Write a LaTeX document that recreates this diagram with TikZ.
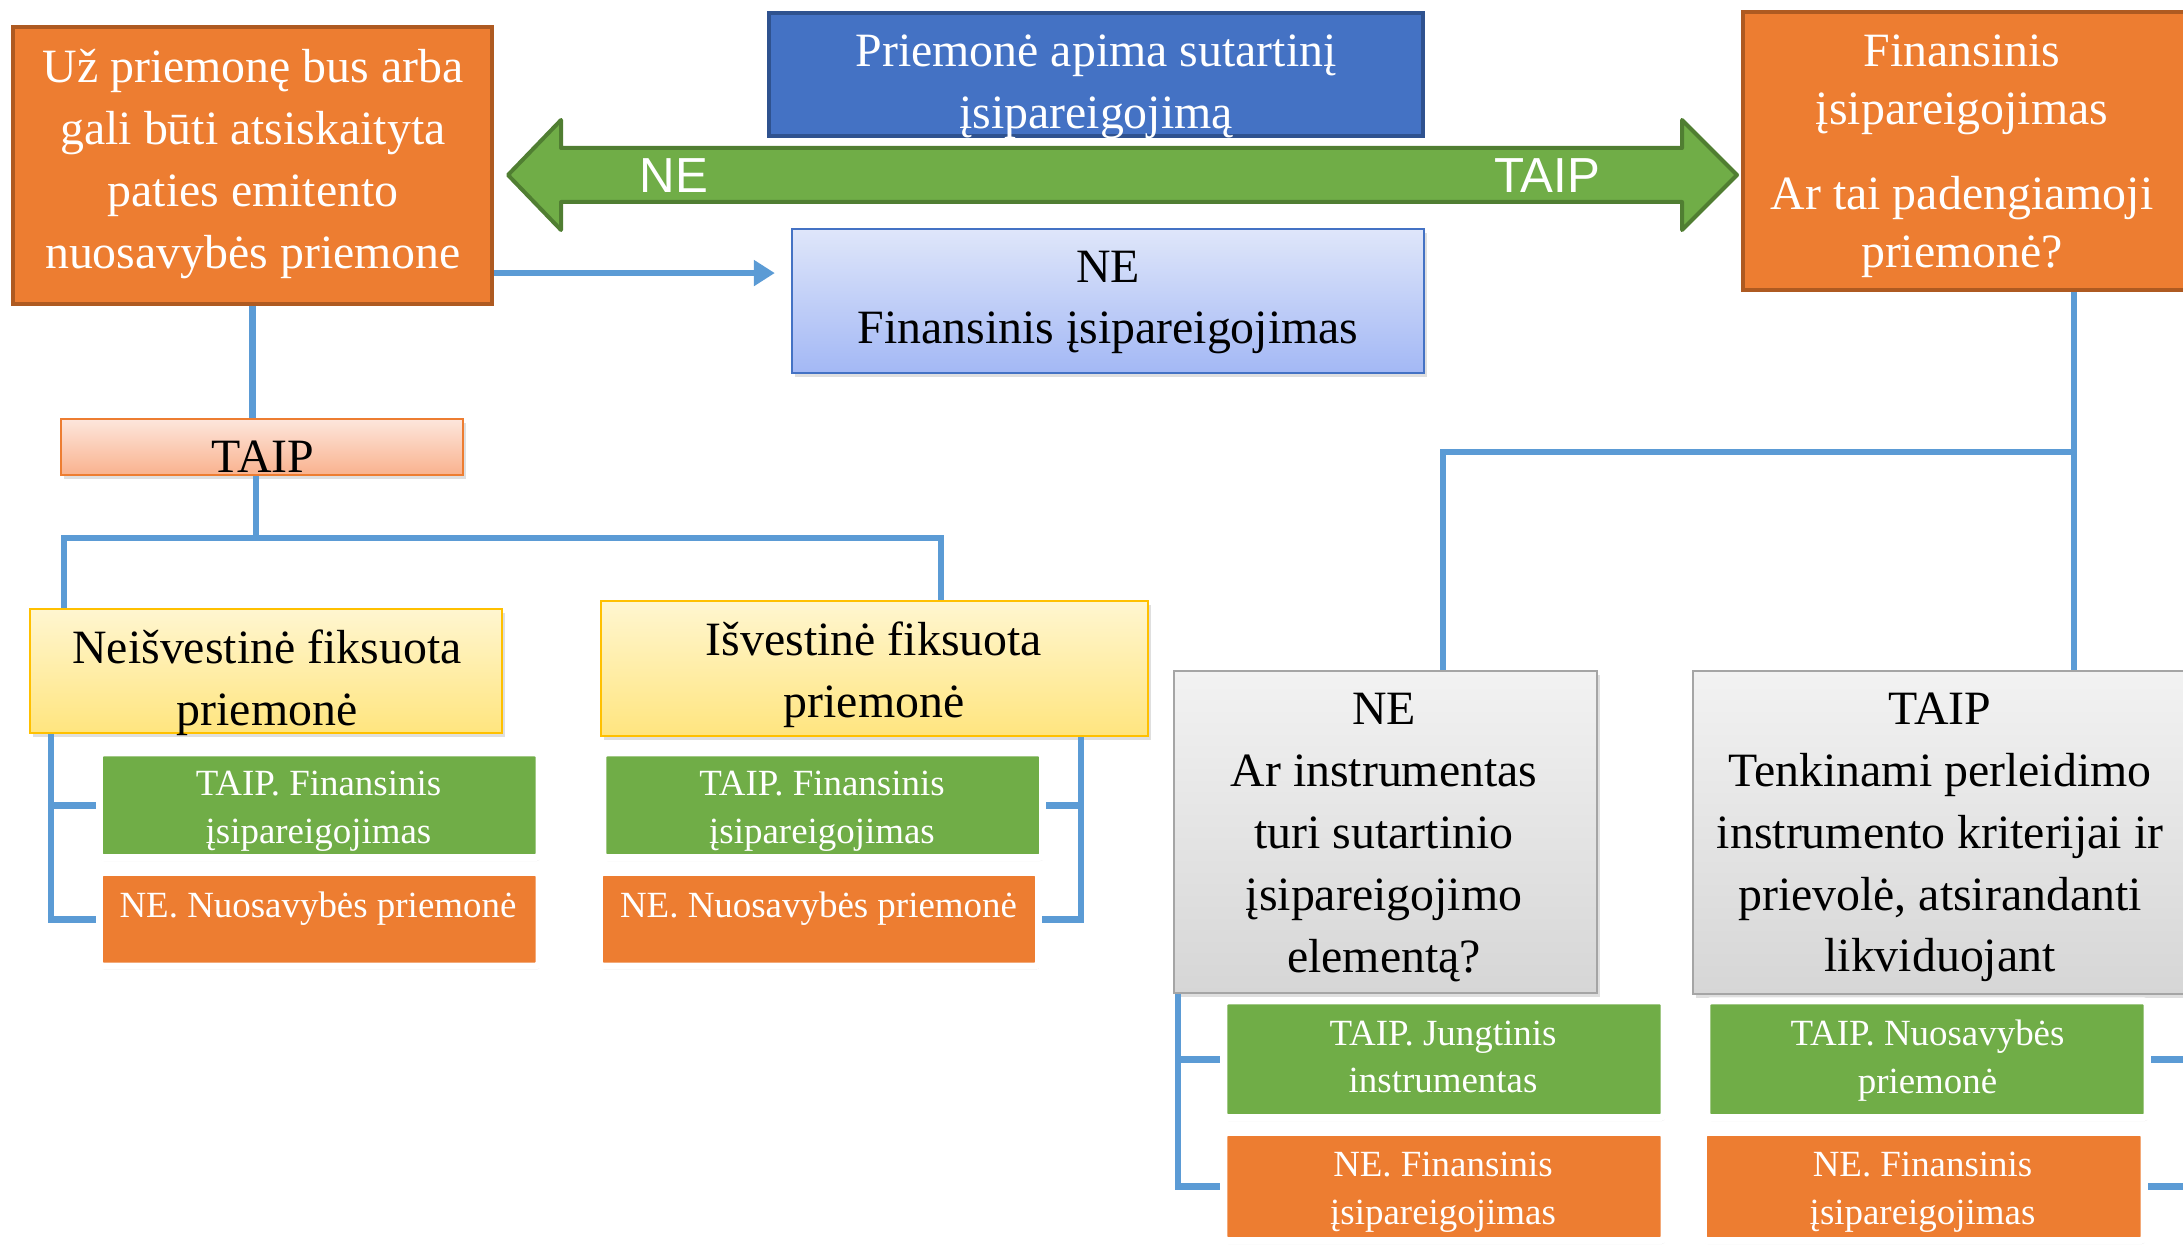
\documentclass[tikz,border=0pt]{standalone}
\usepackage{fontspec}
\setmainfont{Liberation Serif}
\newfontfamily\arrowfont{Liberation Sans}
\usetikzlibrary{arrows.meta,shadows}

\definecolor{orangefill}{HTML}{ED7D31}
\definecolor{orangeedge}{HTML}{AE5A21}
\definecolor{bluefill}{HTML}{4472C4}
\definecolor{blueedge}{HTML}{2F528F}
\definecolor{greenfill}{HTML}{70AD47}
\definecolor{greenedge}{HTML}{507E32}
\definecolor{linkblue}{HTML}{5B9BD5}
\definecolor{paleblue}{HTML}{DFE6FA}
\definecolor{midblue}{HTML}{A3B8F5}
\definecolor{salmontop}{HTML}{FDE6DC}
\definecolor{salmonbottom}{HTML}{F9B28E}
\definecolor{yellowtop}{HTML}{FFF6D0}
\definecolor{yellowbottom}{HTML}{FFE57F}
\definecolor{yellowedge}{HTML}{FFC000}
\definecolor{graytop}{HTML}{F2F2F2}
\definecolor{graybottom}{HTML}{D6D6D6}
\definecolor{grayedge}{HTML}{A5A5A5}

\newcommand{\boxfont}{\fontsize{13.6}{17.6}\selectfont}
\newcommand{\answerfont}{\fontsize{10.5}{13.6}\selectfont}

\tikzset{
    box/.style={rectangle, inner sep=0pt},
    softshadow/.style={drop shadow={shadow xshift=0.03cm, shadow yshift=-0.04cm, opacity=0.25}},
    frameshadow/.style={drop shadow={shadow xshift=0.01cm, shadow yshift=-0.035cm, opacity=0.22}},
    orangebox/.style={box, fill=orangefill, draw=orangeedge, line width=0.04cm},
    bluebox/.style={box, fill=bluefill, draw=blueedge, line width=0.04cm},
    nebox/.style={box, top color=paleblue, bottom color=midblue, draw=bluefill, line width=0.02cm, softshadow},
    taipbox/.style={box, top color=salmontop, bottom color=salmonbottom, draw=orangefill, line width=0.025cm, softshadow},
    kindbox/.style={box, top color=yellowtop, bottom color=yellowbottom, draw=yellowedge, line width=0.025cm, softshadow},
    questionbox/.style={box, top color=graytop, bottom color=graybottom, draw=grayedge, line width=0.025cm, softshadow},
    yesanswer/.style={box, fill=greenfill, draw=white, line width=0.07cm, rounded corners=0.035cm, frameshadow},
    noanswer/.style={box, fill=orangefill, draw=white, line width=0.07cm, rounded corners=0.035cm, frameshadow},
    whitetext/.style={text=white, font=\boxfont, align=center},
    blacktext/.style={text=black, font=\boxfont, align=center},
    answertext/.style={text=white, font=\answerfont, align=center},
    arrowtext/.style={text=white, font=\arrowfont\fontsize{14}{16}\selectfont},
    link/.style={draw=linkblue, line width=0.065cm},
}

\begin{document}
\begin{tikzpicture}[x=0.01cm, y=-0.01cm]
                \useasboundingbox (0,0) rectangle (2183,1246);
                \clip (0,0) rectangle (2183,1246);

                \draw[fill=greenfill, draw=greenedge, line width=0.04cm, line join=round]
                (508,175) -- (561,120) -- (561,148) -- (1682,148) -- (1682,120) -- (1737,175)
                -- (1682,230) -- (1682,202) -- (561,202) -- (561,230) -- cycle;
                \node[arrowtext] (arrowno) at (674,176) {NE};
                \node[arrowtext] (arrowyes) at (1547,176) {TAIP};

                \node[orangebox, minimum width=4.79cm, minimum height=2.77cm] (equity) at (252.5,165.5) {};
                \node[whitetext] (equitytext) at (253,164)
                {Už priemonę bus arba\\gali būti atsiskaityta\\paties emitento\\nuosavybės priemone};

                \node[bluebox, minimum width=6.54cm, minimum height=1.23cm] (contract) at (1096,74.5) {};
                \node[whitetext] (contracttext) at (1096,86.5)
                {Priemonė apima sutartinį\\įsipareigojimą};

                \node[orangebox, minimum width=4.45cm, minimum height=2.78cm] (liability) at (1965.5,151) {};
                \node[whitetext, font=\fontsize{13.6}{16.5}\selectfont] (liabilitytext) at (1962,156)
                {Finansinis\\įsipareigojimas\\[0.27cm]Ar tai padengiamoji\\priemonė?};

                \node[nebox, minimum width=6.32cm, minimum height=1.44cm] (notliability) at (1108,301) {};
                \node[blacktext] (notliabilitytext) at (1108,302.5)
                {NE\\Finansinis įsipareigojimas};

                \node[taipbox, minimum width=4.015cm, minimum height=0.555cm] (yesbox) at (262,447) {};
                \node[blacktext] (yesboxtext) at (263,457) {TAIP};

                \node[kindbox, minimum width=4.715cm, minimum height=1.235cm] (nonderiv) at (266,671) {};
                \node[blacktext] (nonderivtext) at (267,682.5) {Neišvestinė fiksuota\\priemonė};

                \node[kindbox, minimum width=5.465cm, minimum height=1.345cm] (deriv) at (874.5,668.5) {};
                \node[blacktext] (derivtext) at (874,675) {Išvestinė fiksuota\\priemonė};

                \node[yesanswer, minimum width=4.395cm, minimum height=1.045cm] (ndyes) at (319.25,805.25) {};
                \node[answertext] (ndyestext) at (318.5,811.5) {TAIP. Finansinis\\įsipareigojimas};
                \node[noanswer, minimum width=4.395cm, minimum height=0.935cm] (ndno) at (319.25,919.25) {};
                \node[answertext] (ndnotext) at (318,908.5) {NE. Nuosavybės priemonė};

                \node[yesanswer, minimum width=4.395cm, minimum height=1.045cm] (dyes) at (822.75,805.25) {};
                \node[answertext] (dyestext) at (822,811.5) {TAIP. Finansinis\\įsipareigojimas};
                \node[noanswer, minimum width=4.39cm, minimum height=0.935cm] (dno) at (819,919.25) {};
                \node[answertext] (dnotext) at (818.5,908.5) {NE. Nuosavybės priemonė};

                \node[questionbox, minimum width=4.225cm, minimum height=3.215cm] (instrq) at (1385.5,832) {};
                \node[blacktext] (instrqtext) at (1384,837.5)
                {NE\\Ar instrumentas\\turi sutartinio\\įsipareigojimo\\elementą?};

                \node[questionbox, minimum width=4.955cm, minimum height=3.225cm] (transferq) at (1941,832.5) {};
                \node[blacktext] (transferqtext) at (1940,837.5)
                {TAIP\\Tenkinami perleidimo\\instrumento kriterijai ir\\prievolė, atsirandanti\\likviduojant};

                \node[yesanswer, minimum width=4.4cm, minimum height=1.165cm] (iqyes) at (1444,1059.25) {};
                \node[answertext] (iqyestext) at (1443,1057) {TAIP. Jungtinis\\instrumentas};
                \node[noanswer, minimum width=4.4cm, minimum height=1.08cm] (iqno) at (1444,1186.5) {};
                \node[answertext] (iqnotext) at (1443,1192) {NE. Finansinis\\įsipareigojimas};

                \node[yesanswer, minimum width=4.4cm, minimum height=1.165cm] (tqyes) at (1927,1059.25) {};
                \node[answertext] (tqyestext) at (1927.5,1061) {TAIP. Nuosavybės\\priemonė};
                \node[noanswer, minimum width=4.405cm, minimum height=1.08cm] (tqno) at (1923.75,1186.5) {};
                \node[answertext] (tqnotext) at (1922.5,1192) {NE. Finansinis\\įsipareigojimas};

                \coordinate (arrowstart) at ([yshift=0.33cm]equity.south east);
                \draw[link, -{Triangle[length=0.21cm, width=0.25cm]}, shorten >=0.16cm]
                (arrowstart) -- (arrowstart -| notliability.west);

                \draw[link] (equity.south) -- (equity.south |- yesbox.north);
                \coordinate (kindsplit) at (256,538);
                \coordinate (kindleft) at (64,538);
                \coordinate (kindright) at (941,538);
                \draw[link] (kindsplit |- yesbox.south) -- (kindsplit);
                \draw[link] (kindleft |- nonderiv.north) -- (kindleft) -- (kindright) -- (kindright |- deriv.north);

                \coordinate (ndspine) at (51,0);
                \draw[link] (ndspine |- nonderiv.south) |- (ndno.west);
                \draw[link] (ndspine |- ndyes.west) -- (ndyes.west);

                \coordinate (dspine) at (1081,0);
                \draw[link] (dspine |- deriv.south) |- (dno.east);
                \draw[link] (dspine |- dyes.east) -- (dyes.east);

                \coordinate (qright) at (2074,452);
                \coordinate (qleft) at (1443,452);
                \draw[link] (qright |- liability.south) -- (qright |- transferq.north);
                \draw[link] (qright) -- (qleft) -- (qleft |- instrq.north);

                \coordinate (iqspine) at (1178,0);
                \draw[link] (iqspine |- instrq.south) |- (iqno.west);
                \draw[link] (iqspine |- iqyes.west) -- (iqyes.west);

                \coordinate (tqspine) at (2200,0);
                \draw[link] (tqspine |- transferq.south) |- (tqno.east);
                \draw[link] (tqspine |- tqyes.east) -- (tqyes.east);
            \end{tikzpicture}
\end{document}
